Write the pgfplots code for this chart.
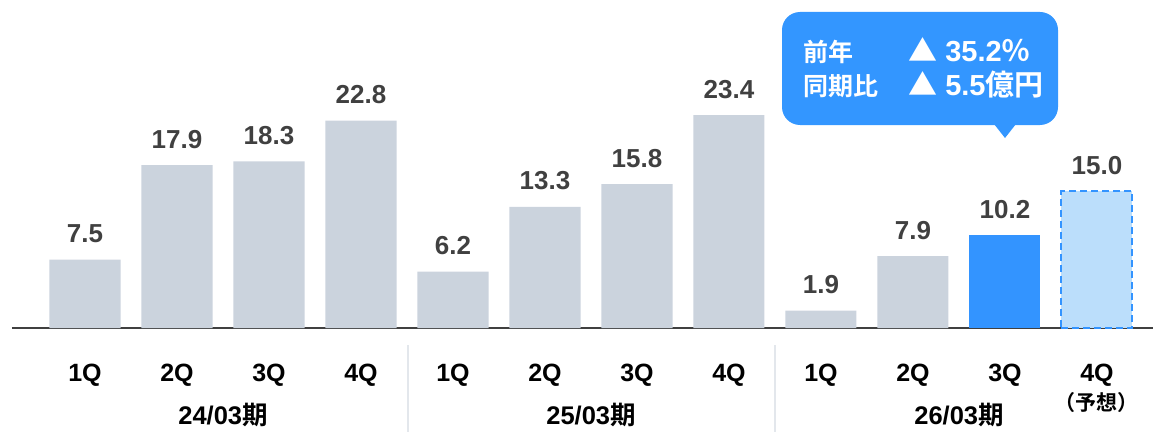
\documentclass[border=0pt]{standalone}
\usepackage{pgfplots}
\pgfplotsset{compat=1.18}
\usepackage{fontspec}
\setmainfont{Liberation Sans}
\newfontfamily\jp{Noto Sans CJK JP}[BoldFont={Noto Sans CJK JP Bold}]
\definecolor{bargray}{HTML}{CBD3DD}
\definecolor{barblue}{HTML}{3394FF}
\definecolor{barlight}{HTML}{BBDEFB}
\definecolor{labelgray}{HTML}{404040}
\definecolor{sepgray}{HTML}{E3E7EC}
\definecolor{callblue}{HTML}{3396FF}
\begin{document}
\begin{tikzpicture}[x=1pt,y=1pt]
\useasboundingbox (0,0) rectangle (1153,432);
\draw[sepgray, line width=1.5pt] (408,0) -- (408,87);
\draw[sepgray, line width=1.5pt] (775,0) -- (775,87);
\begin{axis}[
 at={(12pt,104pt)}, anchor=south west,
 scale only axis, width=1141pt, height=328pt,
 xmin=-0.7935, xmax=11.609, ymin=0, ymax=36.04,
 axis x line*=bottom, axis y line=none,
 x axis line style={draw=labelgray, line width=1.6pt},
 ytick=\empty,
 xtick={0,...,11},
 xticklabels={1Q,2Q,3Q,4Q,1Q,2Q,3Q,4Q,1Q,2Q,3Q,4Q},
 xticklabel style={font=\bfseries\fontsize{25}{29}\selectfont, anchor=base, yshift=-53pt},
 major tick length=0pt,
 ybar, bar width=0.772, bar shift=0pt,
 clip=false,
 nodes near coords,
 nodes near coords style={font=\bfseries\fontsize{26}{30}\selectfont, text=labelgray, draw=none, anchor=base, inner sep=0pt, yshift=17pt},
 /pgf/number format/fixed, /pgf/number format/fixed zerofill, /pgf/number format/precision=1, /pgf/number format/assume math mode=true,
]
\addplot[fill=bargray, draw=none] coordinates {(0,7.5)(1,17.9)(2,18.3)(3,22.8)(4,6.2)(5,13.3)(6,15.8)(7,23.4)(8,1.9)(9,7.9)};
\addplot[fill=barblue, draw=none] coordinates {(10,10.2)};
\addplot[fill=barlight, draw=barblue, line width=2pt, dash pattern=on 7pt off 4pt] coordinates {(11,15.0)};
\node[anchor=base, font=\bfseries\fontsize{25.5}{29}\selectfont, yshift=-96pt] at (axis cs:1.5,0) {24/03{\jp\bfseries 期}};
\node[anchor=base, font=\bfseries\fontsize{25.5}{29}\selectfont, yshift=-96pt] at (axis cs:5.5,0) {25/03{\jp\bfseries 期}};
\node[anchor=base, font=\bfseries\fontsize{25.5}{29}\selectfont, yshift=-96pt] at (axis cs:9.5,0) {26/03{\jp\bfseries 期}};
\node[anchor=base, font=\jp\bfseries\fontsize{21}{25}\selectfont, yshift=-82pt] at (axis cs:11,0) {（予想）};
\end{axis}
\fill[callblue, rounded corners=18pt] (782,307) rectangle (1058,420);
\fill[callblue] (994,308) -- (1005,294) -- (1016,308) -- cycle;
\node[anchor=base west, inner sep=0pt, text=white, font=\jp\bfseries\fontsize{25}{29}\selectfont] at (803,370) {前年};
\node[anchor=base west, inner sep=0pt, text=white, font=\jp\bfseries\fontsize{25}{29}\selectfont] at (803,337) {同期比};
\node[anchor=base west, inner sep=0pt, text=white, font=\bfseries\fontsize{29}{33}\selectfont] at (908,370) {{\jp ▲} 35.2{\jp ％}};
\node[anchor=base west, inner sep=0pt, text=white, font=\bfseries\fontsize{29}{33}\selectfont] at (908,337) {{\jp ▲} 5.5{\jp\bfseries 億円}};
\end{tikzpicture}
\end{document}
